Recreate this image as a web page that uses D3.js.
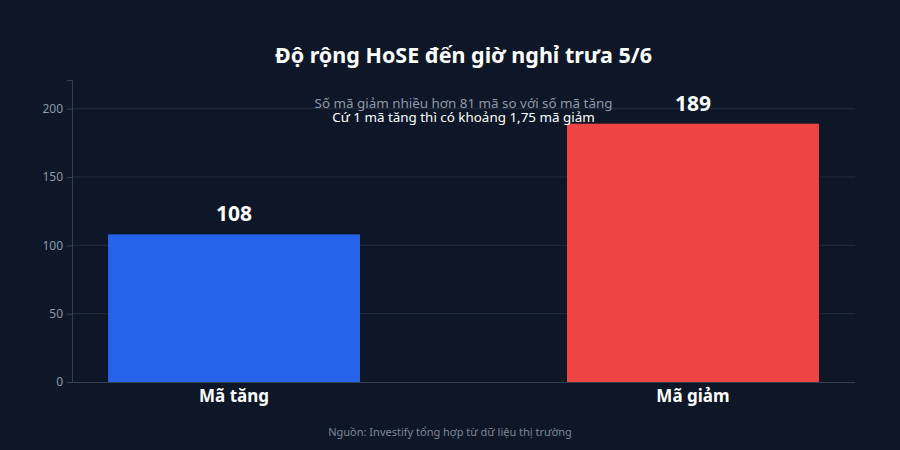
<!DOCTYPE html>
<html>
<head>
<meta charset="utf-8">
<script src="https://cdn.jsdelivr.net/npm/d3@7"></script>
<style>
  body { margin: 0; background: #0d1727; }
  text { font-family: "Noto Sans", "Open Sans", sans-serif; }
</style>
</head>
<body>
<div id="chart"></div>
<script>
// chart data
var categories = ["Mã tăng", "Mã giảm"];
var counts = [108, 189];
var barColors = ["#2563eb", "#ef4444"];
var yTicks = [0, 50, 100, 150, 200];
var titleText = "Độ rộng HoSE đến giờ nghỉ trưa 5/6";
var noteLines = ["Số mã giảm nhiều hơn 81 mã so với số mã tăng", "Cứ 1 mã tăng thì có khoảng 1,75 mã giảm"];
var sourceText = "Nguồn: Investify tổng hợp từ dữ liệu thị trường";

var svgWidth = 900;
var svgHeight = 450;

var margin = { top: 80, right: 45, bottom: 69, left: 72 };
var width = svgWidth - margin.left - margin.right;
var height = svgHeight - margin.top - margin.bottom;

var svg = d3
  .select("#chart")
  .append("svg")
  .attr("width", svgWidth)
  .attr("height", svgHeight);

svg.append("rect")
  .attr("width", svgWidth)
  .attr("height", svgHeight)
  .attr("fill", "#0d1727");

var chartGroup = svg
  .append("g")
  .attr("transform", `translate(${margin.left}, ${margin.top})`);

var xScale = d3
  .scaleBand()
  .domain(categories)
  .range([0, width])
  .paddingInner(0.451)
  .paddingOuter(0.0785);

var yScale = d3.scaleLinear().domain([0, 221]).range([height + 1, 0]);

// grid lines
chartGroup
  .append("g")
  .selectAll("line")
  .data(yTicks.filter(d => d > 0))
  .enter()
  .append("line")
  .attr("x1", 0)
  .attr("x2", width)
  .attr("y1", d => yScale(d))
  .attr("y2", d => yScale(d))
  .attr("stroke", "#222d3d")
  .attr("stroke-width", 1);

// y axis
var leftAxis = d3.axisLeft(yScale).tickValues(yTicks).tickSize(5).tickPadding(4);
var yAxis = chartGroup.append("g").call(leftAxis);
yAxis.select(".domain").attr("stroke", "#344052");
yAxis.selectAll(".tick line").attr("stroke", "#344052");
yAxis.selectAll(".tick text")
  .attr("fill", "#8f99a8")
  .attr("font-size", 12)
  .style("font-family", "Noto Sans");

// bars
chartGroup
  .append("g")
  .selectAll("rect")
  .data(categories)
  .enter()
  .append("rect")
  .attr("x", d => xScale(d))
  .attr("y", (d, i) => yScale(counts[i]))
  .attr("width", xScale.bandwidth())
  .attr("height", (d, i) => yScale(0) - yScale(counts[i]))
  .attr("fill", (d, i) => barColors[i]);

// x axis line
chartGroup
  .append("line")
  .attr("x1", 0)
  .attr("x2", width)
  .attr("y1", yScale(0) + 0.5)
  .attr("y2", yScale(0) + 0.5)
  .attr("stroke", "#344052");

// category labels
chartGroup
  .append("g")
  .selectAll("text")
  .data(categories)
  .enter()
  .append("text")
  .attr("x", d => xScale(d) + xScale.bandwidth() / 2)
  .attr("y", yScale(0) + 20)
  .attr("text-anchor", "middle")
  .attr("fill", "#ffffff")
  .attr("font-size", 17)
  .attr("font-weight", "bold")
  .text(d => d);

// value labels
chartGroup
  .append("g")
  .selectAll("text")
  .data(categories)
  .enter()
  .append("text")
  .attr("x", d => xScale(d) + xScale.bandwidth() / 2)
  .attr("y", (d, i) => yScale(counts[i]) - 13)
  .attr("text-anchor", "middle")
  .attr("fill", "#ffffff")
  .attr("font-size", 21)
  .attr("font-weight", "bold")
  .text((d, i) => counts[i]);

// annotation
chartGroup
  .append("text")
  .attr("x", width / 2)
  .attr("y", yScale(200) - 1)
  .attr("text-anchor", "middle")
  .attr("fill", "#8f99a8")
  .attr("font-size", 13.4)
  .text(noteLines[0]);

chartGroup
  .append("text")
  .attr("x", width / 2)
  .attr("y", yScale(200) + 13.5)
  .attr("text-anchor", "middle")
  .attr("fill", "#ffffff")
  .attr("font-size", 13.4)
  .text(noteLines[1]);

// title
svg
  .append("text")
  .attr("x", margin.left + width / 2)
  .attr("y", 63)
  .attr("text-anchor", "middle")
  .attr("fill", "#ffffff")
  .attr("font-size", 21.5)
  .attr("font-weight", "bold")
  .text(titleText);

// source
svg
  .append("text")
  .attr("x", svgWidth / 2)
  .attr("y", 436)
  .attr("text-anchor", "middle")
  .attr("fill", "#7d8796")
  .attr("font-size", 11)
  .text(sourceText);
</script>
</body>
</html>
